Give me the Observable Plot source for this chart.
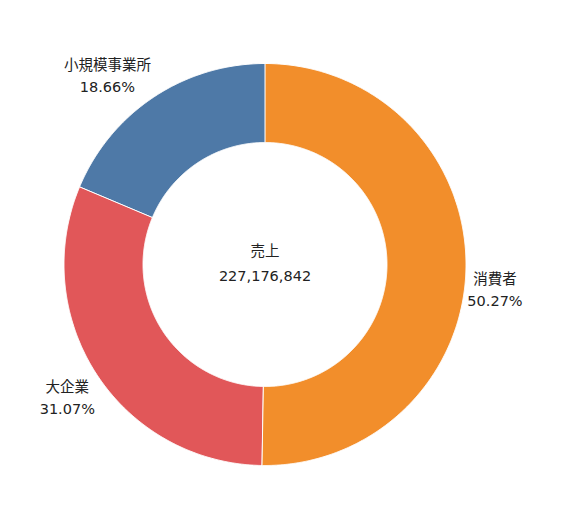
<!DOCTYPE html>
<html><head><meta charset="utf-8">
<script src="https://cdn.jsdelivr.net/npm/d3@7"></script>
<script src="https://cdn.jsdelivr.net/npm/@observablehq/plot@0.6"></script>
<style>body{margin:0;background:#fff}</style>
</head><body><div id="chart"></div>
<script>
const categories = ["消費者", "大企業", "小規模事業所"];
const shares = [50.27, 31.07, 18.66];
const colors = ["#F28E2B", "#E15759", "#4E79A7"];
const centerTitle = "売上";
const centerValue = 227176842;

const W = 566, H = 507, cx = 264.5, cy = 264;
const R = 201, r = 122;

// build slice polygons from shares
const total = d3.sum(shares);
const pts = [];
const labels = [];
let acc = 0;
categories.forEach((cat, i) => {
  const a0 = acc / total * 2 * Math.PI;
  acc += shares[i];
  const a1 = acc / total * 2 * Math.PI;
  const n = Math.max(2, Math.ceil((a1 - a0) / 0.005));
  for (let k = 0; k <= n; k++) {
    const a = a0 + (a1 - a0) * k / n;
    pts.push({cat, x: R * Math.sin(a), y: R * Math.cos(a)});
  }
  for (let k = n; k >= 0; k--) {
    const a = a0 + (a1 - a0) * k / n;
    pts.push({cat, x: r * Math.sin(a), y: r * Math.cos(a)});
  }
  const am = (a0 + a1) / 2;
  labels.push({cat, a: am, text: cat + "\n" + shares[i].toFixed(2) + "%"});
});

const nudge = {"消費者": [-6, 21], "大企業": [0, 3], "小規模事業所": [-27, 6]};
const LR = 236;
labels.forEach(l => {
  const [dx, dy] = nudge[l.cat];
  l.x = LR * Math.sin(l.a) + dx;
  l.y = LR * Math.cos(l.a) - dy;
});

const font = "'DejaVu Sans', 'Noto Sans CJK JP', sans-serif";

const chart = Plot.plot({
  width: W, height: H,
  margin: 0,
  x: {domain: [-cx, W - cx], axis: null},
  y: {domain: [-(H - cy), cy], axis: null},
  color: {domain: categories, range: colors},
  style: {fontFamily: font, background: "#fff"},
  marks: [
    Plot.line(pts, {x: "x", y: "y", z: "cat", fill: "cat", stroke: "#fff", strokeWidth: 1, curve: "linear-closed"}),
    Plot.text(labels, {x: "x", y: "y", text: "text", fontSize: 14.5, lineHeight: 1.52, fill: "#222", textAnchor: "middle", fontFamily: font}),
    Plot.text([{t: centerTitle + "\n" + d3.format(",")(centerValue)}], {x: () => 0, y: () => 0, dy: -4, text: "t", fontSize: 14.5, lineHeight: 1.75, fill: "#222", textAnchor: "middle", fontFamily: font})
  ]
});
document.getElementById("chart").appendChild(chart);
</script>
</body></html>
